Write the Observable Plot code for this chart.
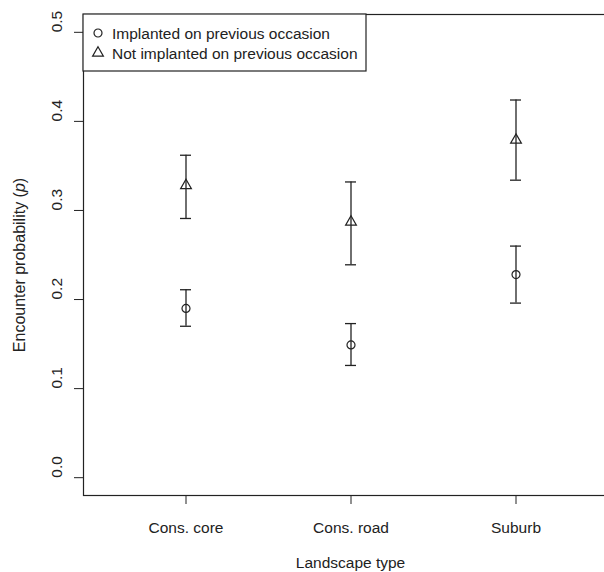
<!DOCTYPE html>
<html>
<head>
<meta charset="utf-8">
<script src="https://cdn.jsdelivr.net/npm/d3@7"></script>
<script src="https://cdn.jsdelivr.net/npm/@observablehq/plot@0.6"></script>
<style>
  html, body { margin: 0; padding: 0; background: white; overflow: hidden; }
  #chart { width: 604px; height: 572px; overflow: hidden; position: relative; }
  #chart svg { max-width: none !important; }
</style>
</head>
<body>
<div id="chart"></div>
<script>
const categories = ["Cons. core", "Cons. road", "Suburb"];
const seriesLabels = ["Implanted on previous occasion", "Not implanted on previous occasion"];
const implantedP  = [0.190, 0.149, 0.228];
const implantedLo = [0.170, 0.126, 0.196];
const implantedHi = [0.211, 0.173, 0.260];
const notImplP  = [0.328, 0.287, 0.379];
const notImplLo = [0.291, 0.239, 0.334];
const notImplHi = [0.362, 0.332, 0.424];
const yTicks = [0, 0.1, 0.2, 0.3, 0.4, 0.5];
const xTitle = "Landscape type";
const yTitle = "Encounter probability (";

const rows = [];
categories.forEach((c, i) => {
  rows.push({cat: c, series: seriesLabels[0], p: implantedP[i], lo: implantedLo[i], hi: implantedHi[i]});
  rows.push({cat: c, series: seriesLabels[1], p: notImplP[i], lo: notImplLo[i], hi: notImplHi[i]});
});

const ink = "#222";
const font = "'Liberation Sans', Arial, Helvetica, sans-serif";
const fs = 15.5;

const chart = Plot.plot({
  width: 617,
  height: 572,
  marginLeft: 83,
  marginRight: 0,
  marginTop: 14,
  marginBottom: 77,
  style: {fontFamily: font, fontSize: fs + "px", color: ink, background: "white", maxWidth: "none"},
  x: {type: "band", domain: categories, paddingInner: 0.936, paddingOuter: 0.586, align: 0.5},
  y: {domain: [-0.02, 0.52]},
  symbol: {domain: seriesLabels, range: ["circle", "triangle"]},
  marks: [
    Plot.frame({stroke: ink, strokeWidth: 1.2}),
    Plot.axisX({tickSize: 9, tickPadding: 17, label: null, stroke: ink, fontSize: fs}),
    Plot.axisY({ticks: yTicks, tickSize: 9, tickFormat: () => "", label: null, stroke: ink}),
    Plot.text(yTicks, {y: d => d, text: d => d.toFixed(1), frameAnchor: "left", dx: -26, rotate: -90, fontSize: fs, fill: ink}),
    Plot.text([xTitle], {text: d => d, frameAnchor: "bottom", dy: 72, fontSize: fs, fill: ink}),
    Plot.ruleX(rows, {x: "cat", y1: "lo", y2: "hi", stroke: ink, strokeWidth: 1.3}),
    Plot.tickY(rows, {x: "cat", y: "lo", stroke: ink, strokeWidth: 1.3}),
    Plot.tickY(rows, {x: "cat", y: "hi", stroke: ink, strokeWidth: 1.3}),
    Plot.dot(rows, {x: "cat", y: "p", symbol: "series", r: 4, stroke: ink, fill: "none", strokeWidth: 1.2})
  ]
});
chart.style.maxWidth = "none";
document.getElementById("chart").appendChild(chart);

const svg = d3.select(chart);
// y-axis title with italic p
const yt = svg.append("text")
  .attr("transform", "translate(19,265) rotate(-90)")
  .attr("text-anchor", "middle")
  .attr("dominant-baseline", "central")
  .attr("fill", ink)
  .style("font-family", font)
  .style("font-size", "16px");
yt.append("tspan").text(yTitle);
yt.append("tspan").attr("font-style", "italic").text("p");
yt.append("tspan").text(")");

// legend
const lg = svg.append("g");
lg.append("rect").attr("x", 83).attr("y", 14).attr("width", 283).attr("height", 57)
  .attr("fill", "white").attr("stroke", ink).attr("stroke-width", 1.2);
const symTypes = [d3.symbolCircle, d3.symbolTriangle];
seriesLabels.forEach((s, i) => {
  const yy = 33 + i * 20;
  lg.append("path")
    .attr("d", d3.symbol(symTypes[i], Math.PI * 16)())
    .attr("transform", `translate(98,${yy})`)
    .attr("fill", "none").attr("stroke", ink).attr("stroke-width", 1.2);
  lg.append("text").attr("x", 112).attr("y", yy)
    .attr("text-anchor", "start")
    .attr("dominant-baseline", "central")
    .attr("fill", ink)
    .style("font-family", font).style("font-size", fs + "px")
    .text(s);
});
</script>
</body>
</html>
